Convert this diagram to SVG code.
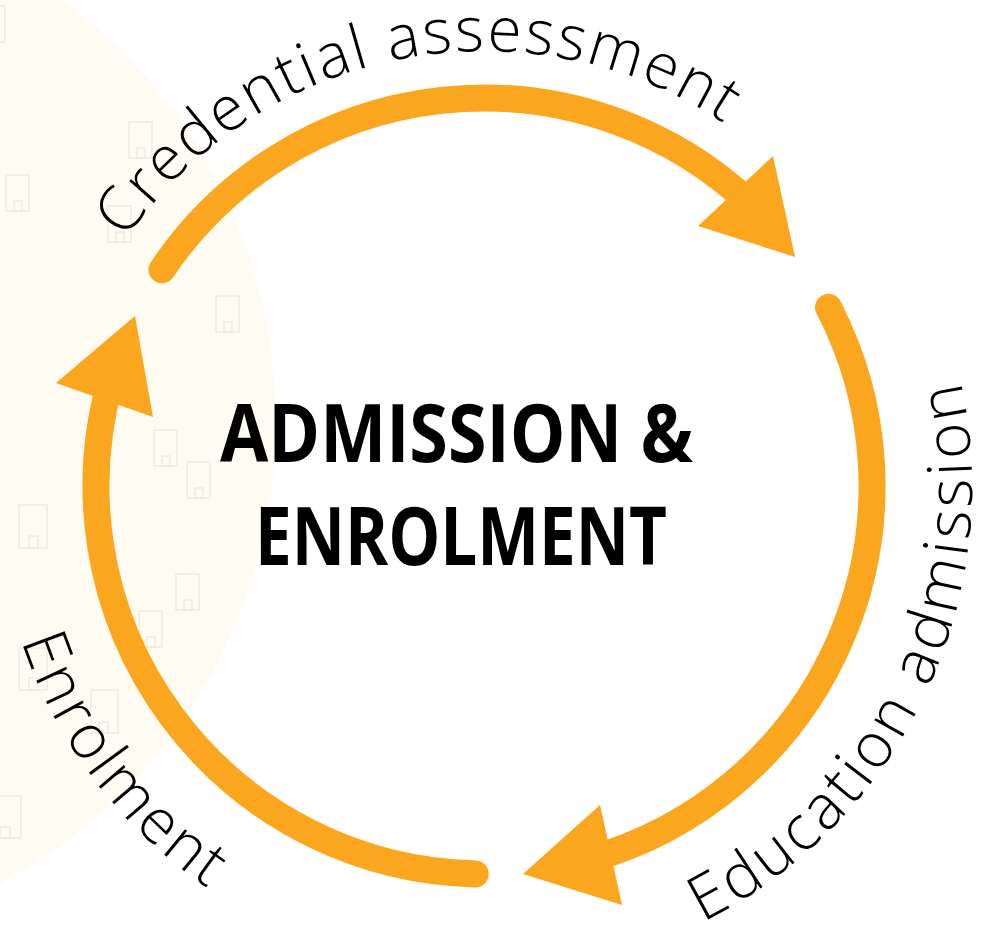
<svg xmlns="http://www.w3.org/2000/svg" width="985" height="926" viewBox="0 0 985 926">
<defs>
<style>
.bldg{fill:none;stroke:#ECE8DC;stroke-width:1.3}
.ring{fill:none;stroke:#FBA61F;stroke-width:27;stroke-linecap:round}
.head{fill:#FBA61F}
.lbl{font-family:"Open Sans","Liberation Sans",sans-serif;font-weight:300;font-size:62px;fill:#000}
.title{font-family:"Open Sans","Liberation Sans",sans-serif;font-weight:700;font-size:80px;fill:#000}
</style>
<path id="pTop" d="M72.7,344.4 A435,435 0 0 1 812.3,200.6"/>
<path id="pRight" d="M526.5,972.1 A488,488 0 0 0 888.6,213.1"/>
<path id="pLeft" d="M34.8,295.3 A488,488 0 0 0 543.5,970.3"/>
<g id="b">
<rect x="0" y="0" width="23" height="36"/>
<rect x="8" y="26" width="8" height="10"/>
</g>
</defs>
<rect width="985" height="926" fill="#FFFFFF"/>
<circle cx="-248" cy="422" r="524" fill="#FEFBF2"/>
<g id="buildings" class="bldg">
<use href="#b" x="-18" y="6"/>
<use href="#b" x="129" y="122"/>
<use href="#b" x="6" y="175"/>
<use href="#b" x="108" y="206"/>
<use href="#b" x="216" y="296"/>
<use href="#b" x="154" y="430"/>
<use href="#b" x="187" y="462"/>
<rect x="19" y="505" width="28" height="43"/><rect x="29" y="536" width="9" height="12"/>
<use href="#b" x="176" y="574"/>
<use href="#b" x="139" y="611"/>
<rect x="19" y="648" width="28" height="42"/><rect x="29" y="678" width="9" height="12"/>
<rect x="91" y="690" width="27" height="43"/><rect x="99" y="722" width="9" height="11"/>
<rect x="-7" y="796" width="28" height="42"/><rect x="0" y="827" width="10" height="11"/>
</g>
<g id="connectors">
<g id="arc-credential">
<path class="ring" d="M162.0,269.7 A388,388 0 0 1 751.1,204.5"/>
<polygon class="head" points="773,156 795,257 698,226"/>
</g>
<g id="arc-education">
<path class="ring" d="M828.5,307.4 A388,388 0 0 1 590.9,859.0"/>
<polygon class="head" points="600,805 622,905 523,874"/>
</g>
<g id="arc-enrolment">
<path class="ring" d="M475.2,873.9 A388,388 0 0 1 111.0,379.1"/>
<polygon class="head" points="56,383 135,316 153,417"/>
</g>
</g>
<g id="label-credential">
<text class="lbl"><textPath href="#pTop" startOffset="50%" text-anchor="middle" textLength="675" lengthAdjust="spacing">Credential assessment</textPath></text>
</g>
<g id="label-education">
<text class="lbl"><textPath href="#pRight" startOffset="50%" text-anchor="middle" textLength="645" lengthAdjust="spacing">Education admission</textPath></text>
</g>
<g id="label-enrolment">
<text class="lbl"><textPath href="#pLeft" startOffset="50%" text-anchor="middle" textLength="315" lengthAdjust="spacing">Enrolment</textPath></text>
</g>
<g id="center-title">
<text class="title" x="220" y="462" textLength="473" lengthAdjust="spacingAndGlyphs">ADMISSION &amp;</text>
<text class="title" x="255" y="565" textLength="412" lengthAdjust="spacingAndGlyphs">ENROLMENT</text>
</g>
</svg>
